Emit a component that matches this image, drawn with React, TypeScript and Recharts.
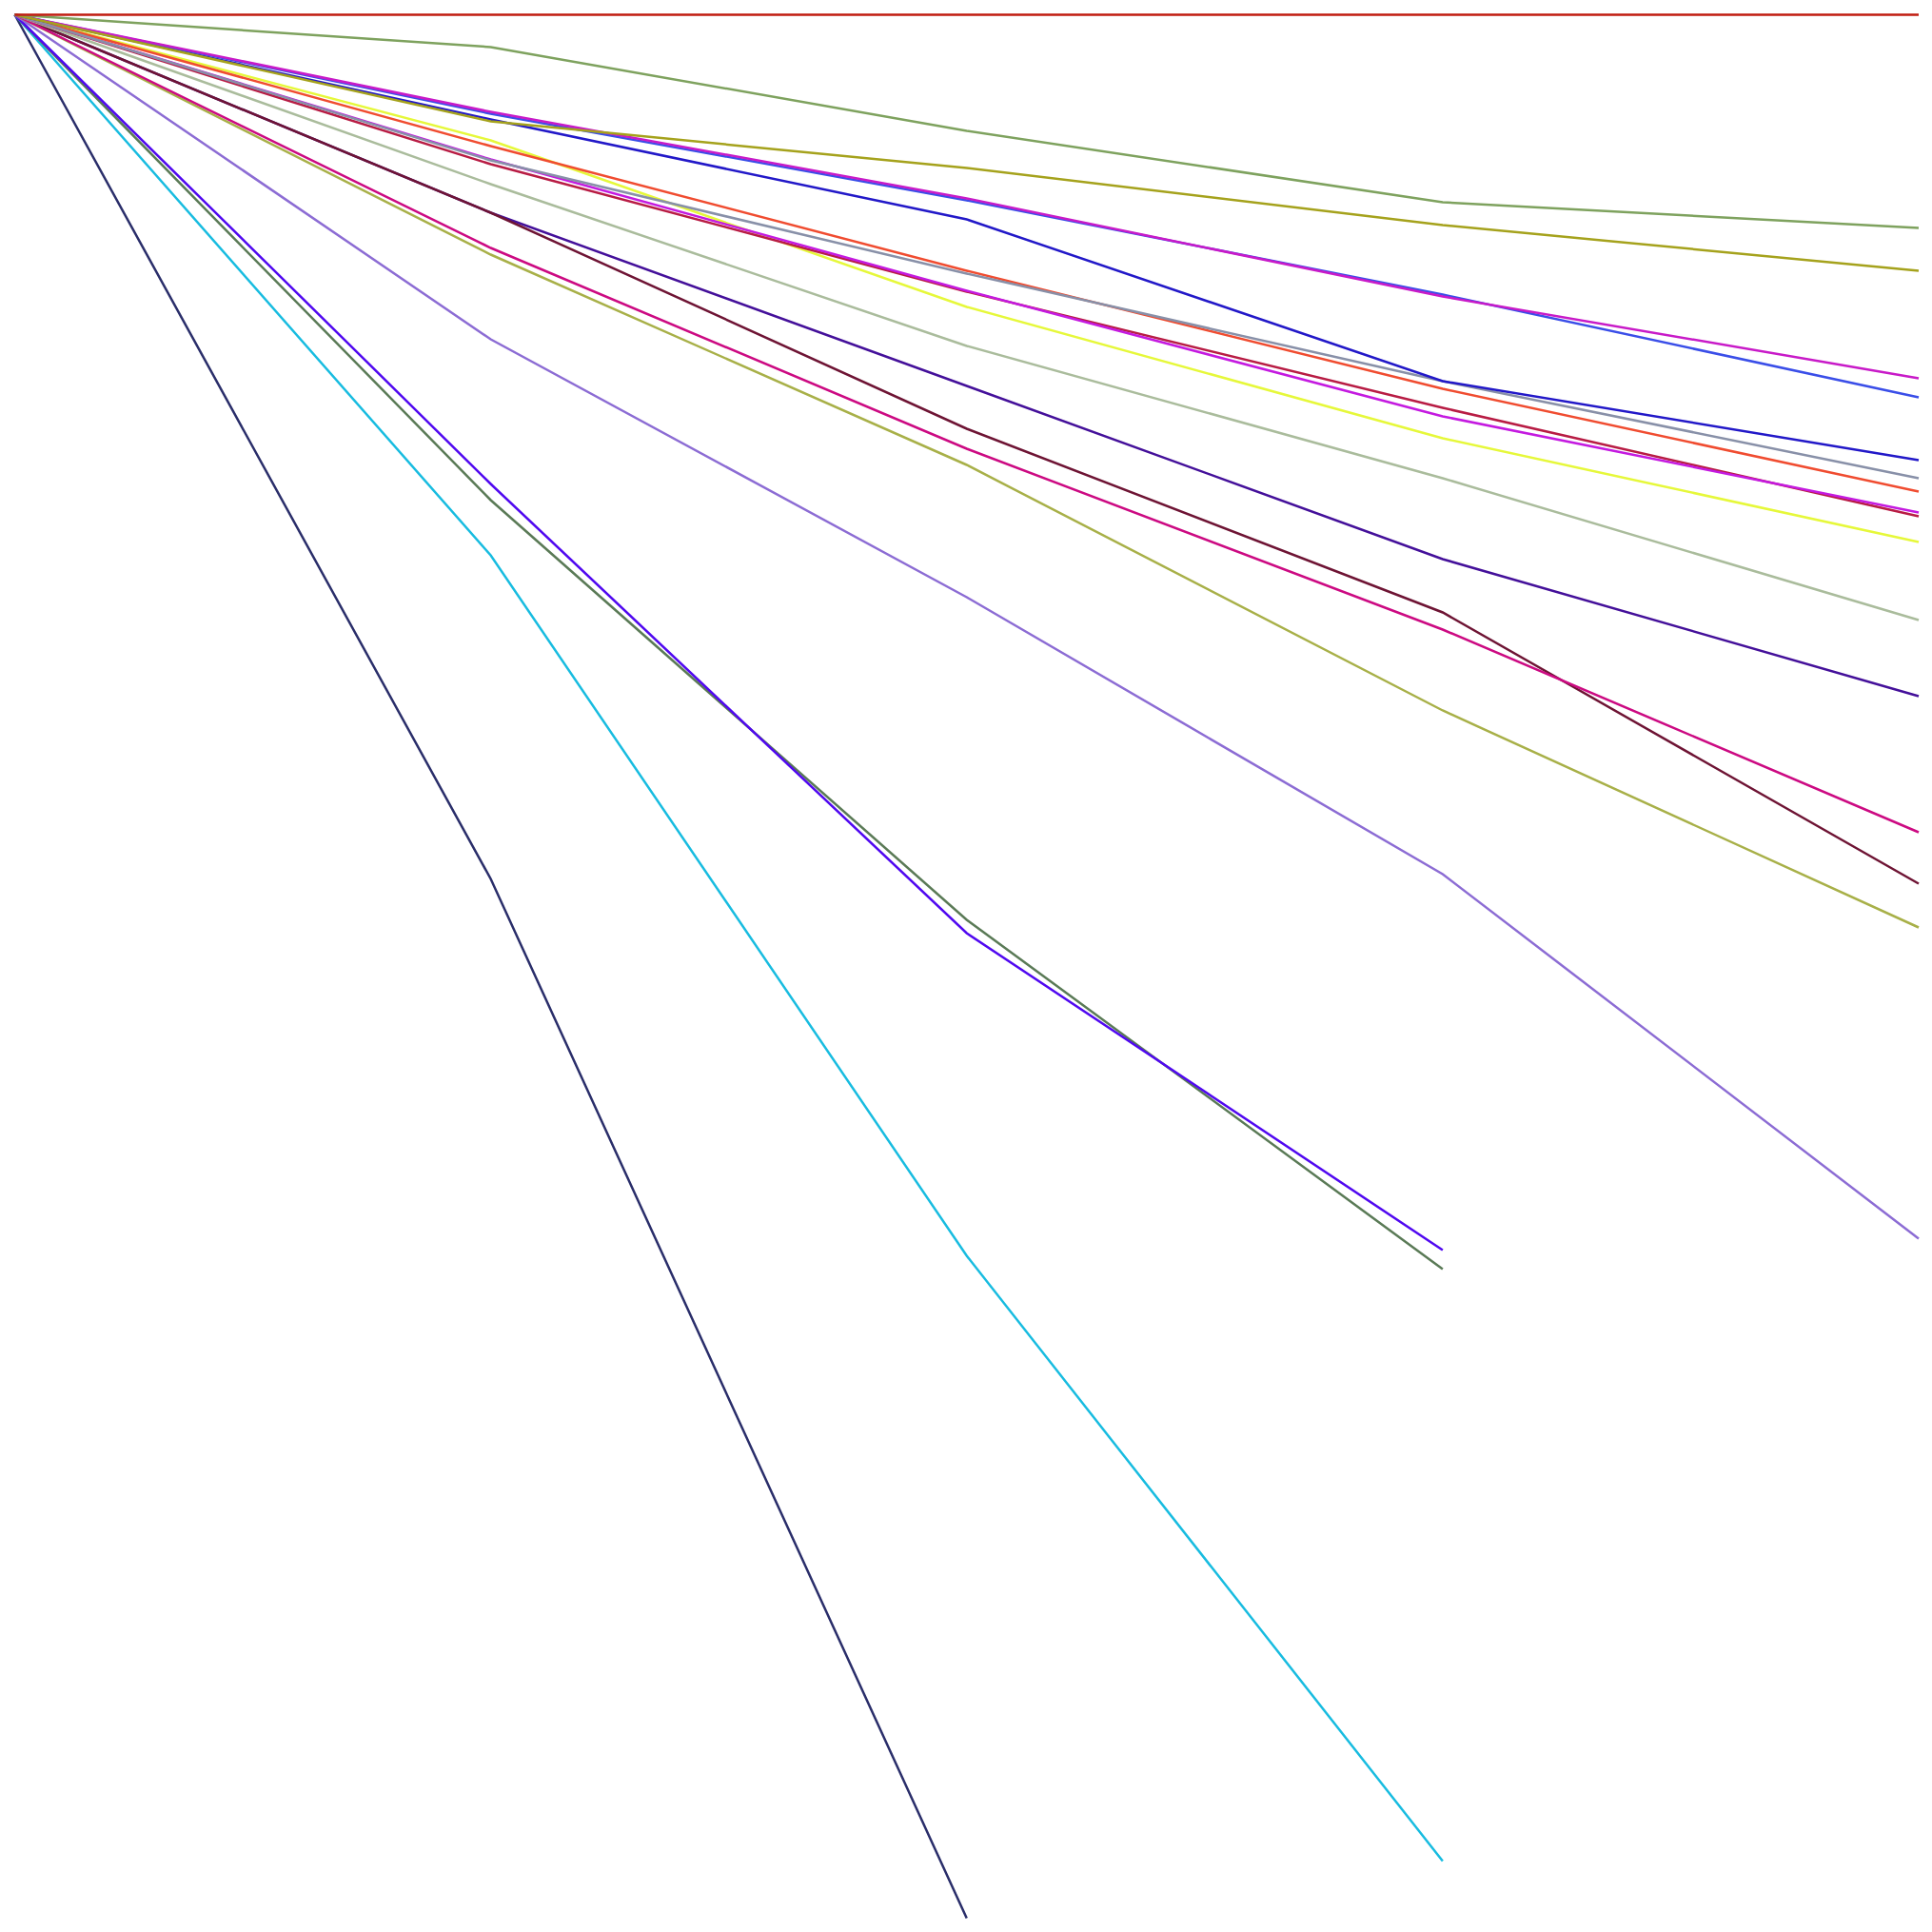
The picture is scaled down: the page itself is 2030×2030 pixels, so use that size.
import React from "react";
import { LineChart, Line, XAxis, YAxis } from "recharts";

const categories = ["0", "1", "2", "3", "4"];

const seriesNames = [
  "s01", "s02", "s03", "s04", "s05", "s06", "s07", "s08", "s09", "s10",
  "s11", "s12", "s13", "s14", "s15", "s16", "s17", "s18", "s19", "s20", "s21",
];

const seriesColors = [
  "#c01c10", "#7ea25e", "#a5a21c", "#3a4ee8", "#c81ac8", "#2218c8", "#8890a8",
  "#f04c30", "#c41ae0", "#b81c44", "#e6f83a", "#aabc9c", "#44109a", "#6e1434",
  "#cc0a82", "#a8b048", "#8c6cd4", "#5008f0", "#5a7a56", "#18bce0", "#2a2e6a",
];

const s01 = [100, 100, 100, 100, 100];
const s02 = [100, 98.3, 93.9, 90.15, 88.8];
const s03 = [100, 94.4, 91.95, 88.95, 86.55];
const s04 = [100, 94.8, 90.25, 85.3, 79.9];
const s05 = [100, 94.9, 90.35, 85.2, 80.9];
const s06 = [100, 94.5, 89.25, 80.75, 76.6];
const s07 = [100, 92.35, 86.4, 80.75, 75.65];
const s08 = [100, 93.1, 86.55, 80.35, 74.95];
const s09 = [100, 92.4, 85.5, 78.9, 73.85];
const s10 = [100, 92.15, 85.45, 79.35, 73.65];
const s11 = [100, 93.4, 84.65, 77.75, 72.3];
const s12 = [100, 91.1, 82.6, 75.65, 68.2];
const s13 = [100, 89.6, 80.5, 71.4, 64.2];
const s14 = [100, 89.6, 78.25, 68.6, 54.35];
const s15 = [100, 87.75, 77.2, 67.7, 57.05];
const s16 = [100, 87.4, 76.35, 63.45, 52.05];
const s17 = [100, 82.95, 69.4, 54.85, 35.7];
const s18 = [100, 75.35, 51.75, 35.1, null];
const s19 = [100, 74.5, 52.45, 34.1, null];
const s20 = [100, 71.6, 34.8, 3.0, null];
const s21 = [100, 54.6, 0, null, null];

const seriesValues: (number | null)[][] = [
  s01, s02, s03, s04, s05, s06, s07, s08, s09, s10,
  s11, s12, s13, s14, s15, s16, s17, s18, s19, s20, s21,
];

const data = categories.map((c, i) => {
  const row: Record<string, string | number | null> = { x: c };
  seriesNames.forEach((n, k) => {
    row[n] = seriesValues[k][i];
  });
  return row;
});

// draw order (later = on top)
const drawOrder = [
  12, 13, 20, 19, 18, 17, 16, 15, 14, 11, 10, 9, 8, 7, 6, 5, 3, 4, 2, 1, 0,
];

export default function App() {
  return (
    <div style={{ width: 2016, height: 2016, background: "#ffffff" }}>
      <LineChart
        width={2016}
        height={2016}
        data={data}
        margin={{ top: 7.5, right: 8, bottom: 8.5, left: 7.5 }}
      >
        <XAxis dataKey="x" hide />
        <YAxis type="number" domain={[0, 100]} hide />
        {drawOrder.map((k) => (
          <Line
            key={seriesNames[k]}
            type="linear"
            dataKey={seriesNames[k]}
            stroke={seriesColors[k]}
            strokeWidth={2.5}
            dot={false}
            activeDot={false}
            connectNulls={false}
            isAnimationActive={false}
          />
        ))}
      </LineChart>
    </div>
  );
}
